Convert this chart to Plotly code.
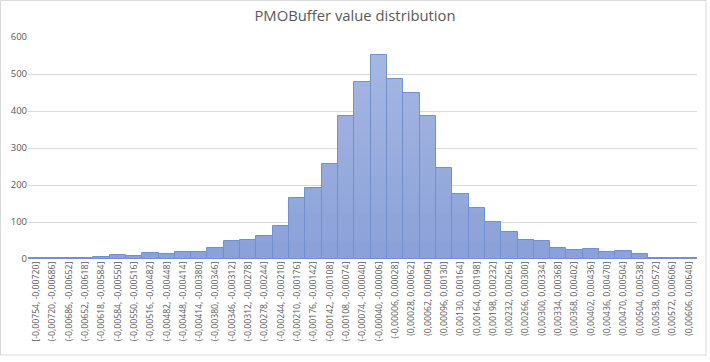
import plotly.graph_objects as go
import numpy as np

title = "PMOBuffer value distribution"

bin_labels = [
    "[-0,00754, -0,00720]", "(-0,00720, -0,00686]", "(-0,00686, -0,00652]",
    "(-0,00652, -0,00618]", "(-0,00618, -0,00584]", "(-0,00584, -0,00550]",
    "(-0,00550, -0,00516]", "(-0,00516, -0,00482]", "(-0,00482, -0,00448]",
    "(-0,00448, -0,00414]", "(-0,00414, -0,00380]", "(-0,00380, -0,00346]",
    "(-0,00346, -0,00312]", "(-0,00312, -0,00278]", "(-0,00278, -0,00244]",
    "(-0,00244, -0,00210]", "(-0,00210, -0,00176]", "(-0,00176, -0,00142]",
    "(-0,00142, -0,00108]", "(-0,00108, -0,00074]", "(-0,00074, -0,00040]",
    "(-0,00040, -0,00006]", "(-0,00006, 0,00028]", "(0,00028, 0,00062]",
    "(0,00062, 0,00096]", "(0,00096, 0,00130]", "(0,00130, 0,00164]",
    "(0,00164, 0,00198]", "(0,00198, 0,00232]", "(0,00232, 0,00266]",
    "(0,00266, 0,00300]", "(0,00300, 0,00334]", "(0,00334, 0,00368]",
    "(0,00368, 0,00402]", "(0,00402, 0,00436]", "(0,00436, 0,00470]",
    "(0,00470, 0,00504]", "(0,00504, 0,00538]", "(0,00538, 0,00572]",
    "(0,00572, 0,00606]", "(0,00606, 0,00640]",
]

counts = [
    3, 3, 3, 3, 6, 12, 9, 17, 14, 20,
    20, 31, 50, 52, 63, 90, 166, 193, 258, 387,
    479, 552, 487, 450, 387, 247, 176, 139, 101, 74,
    52, 49, 31, 25, 28, 20, 22, 14, 3, 3,
    3,
]

y_ticks = [0, 100, 200, 300, 400, 500, 600]

x_idx = list(range(len(bin_labels)))
vals = np.array(counts, dtype=float)

fig = go.Figure()

# vertical gradient fill: slices of the value range, darker at bottom, lighter at top
bottom_rgb = np.array([0x8a, 0xa1, 0xd9])
top_rgb = np.array([0xa9, 0xb9, 0xe2])
step = 25
ymax = 600
for lo in range(0, ymax, step):
    seg = np.clip(vals - lo, 0, step)
    t = (lo + step / 2) / ymax
    c = (bottom_rgb + (top_rgb - bottom_rgb) * t).astype(int)
    color = "rgb(%d,%d,%d)" % tuple(c)
    fig.add_trace(go.Bar(
        x=x_idx, y=seg, base=[lo] * len(x_idx), width=1.0,
        marker=dict(color=color, line=dict(width=0)),
        hoverinfo="skip", showlegend=False,
    ))

# outline of every bar
fig.add_trace(go.Bar(
    x=x_idx, y=counts, width=1.0,
    marker=dict(color="rgba(0,0,0,0)", line=dict(color="#7090d0", width=1)),
    showlegend=False,
))

fig.update_layout(
    width=710, height=362,
    barmode="overlay", bargap=0,
    paper_bgcolor="white", plot_bgcolor="white",
    margin=dict(l=28, r=13, t=37, b=103),
    font=dict(family="Open Sans, Noto Sans, sans-serif", color="#595959"),
    title=dict(text=title, x=0.5, xanchor="center", y=0.955, yanchor="middle",
               font=dict(size=14.8, color="#595959")),
    xaxis=dict(
        tickmode="array", tickvals=x_idx, ticktext=bin_labels,
        tickangle=-90, tickfont=dict(size=8.7, color="#595959"),
        range=[-0.5, len(bin_labels) - 0.5],
        showgrid=False, zeroline=False, showline=False, ticks="",
    ),
    yaxis=dict(
        range=[0, 600], tickvals=y_ticks,
        tickfont=dict(size=9.5, color="#595959"),
        showgrid=True, gridcolor="#d9d9d9", gridwidth=1,
        zeroline=False, showline=False, ticks="",
    ),
    shapes=[
        dict(type="line", xref="paper", yref="y", x0=0, x1=1, y0=0, y1=0,
             line=dict(color="#d9d9d9", width=1), layer="below"),
        dict(type="rect", xref="paper", yref="paper",
             x0=-27.5 / 669, x1=(706 - 28) / 669,
             y0=(259 - 355) / 222, y1=(259 - 0.5) / 222,
             line=dict(color="#d9d9d9", width=1), fillcolor="rgba(0,0,0,0)"),
    ],
)

fig.write_html(
    "out.html",
    config={"displayModeBar": False},
    post_script="document.body.style.margin='0';document.body.style.padding='0';",
)
